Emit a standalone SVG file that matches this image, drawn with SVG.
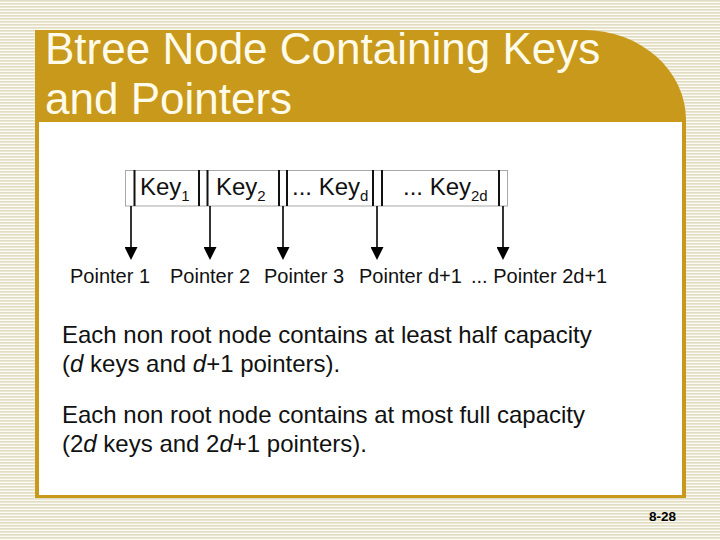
<svg xmlns="http://www.w3.org/2000/svg" width="720" height="540" viewBox="0 0 720 540">
<defs>
<pattern id="stripes" width="6" height="3" patternUnits="userSpaceOnUse">
<rect width="6" height="3" fill="#fbfaf3"/>
<rect width="6" height="1.6" fill="#e1dcc2"/>
</pattern>
<marker id="arr" markerWidth="13" markerHeight="13" refX="6" refY="0" orient="auto" markerUnits="userSpaceOnUse" viewBox="0 -6.5 13 13">
<path d="M0,-6.5 L13,0 L0,6.5 Z" fill="#000"/>
</marker>
<style>
.title{font-family:"Liberation Sans",Arial,sans-serif;font-size:44px;fill:#fffbea}
.key{font-family:"Liberation Sans",Arial,sans-serif;font-size:24px;fill:#111}
.sub{font-size:15px}
.ptr{font-family:"Liberation Sans",Arial,sans-serif;font-size:20px;fill:#111}
.body{font-family:"Liberation Sans",Arial,sans-serif;font-size:24px;fill:#111}
.bar{stroke:#111;stroke-width:2}
.conn{stroke:#000;stroke-width:1.6;fill:none}
</style>
</defs>
<rect width="720" height="540" fill="url(#stripes)"/>
<g id="frame">
<path d="M35,30 H584 A102,90 0 0 1 686,120 V498 H35 Z" fill="#c8991a"/>
<rect x="39" y="122" width="643" height="373" fill="#ffffff"/>
</g>
<g id="title">
<text class="title" x="45" y="64">Btree Node Containing Keys</text>
<text class="title" x="45" y="114">and Pointers</text>
</g>
<g id="node-record">
<rect x="125.5" y="170.5" width="382" height="35.5" fill="#fff" stroke="#a8a8a8" stroke-width="1"/>
<line class="bar" x1="134.5" y1="170" x2="134.5" y2="206"/>
<line class="bar" x1="199" y1="170" x2="199" y2="206"/>
<line class="bar" x1="207.5" y1="170" x2="207.5" y2="206"/>
<line class="bar" x1="279" y1="170" x2="279" y2="206"/>
<line class="bar" x1="287" y1="170" x2="287" y2="206"/>
<line class="bar" x1="373" y1="170" x2="373" y2="206"/>
<line class="bar" x1="382" y1="170" x2="382" y2="206"/>
<line class="bar" x1="499" y1="170" x2="499" y2="206"/>
<text class="key" x="140" y="195">Key<tspan class="sub" dy="6">1</tspan></text>
<text class="key" x="216" y="195">Key<tspan class="sub" dy="6">2</tspan></text>
<text class="key" x="292" y="195">... Key<tspan class="sub" dy="6">d</tspan></text>
<text class="key" x="403" y="195">... Key<tspan class="sub" dy="6">2d</tspan></text>
</g>
<g id="connectors">
<line class="conn" x1="131" y1="206" x2="131" y2="253" marker-end="url(#arr)"/>
<line class="conn" x1="210" y1="206" x2="210" y2="253" marker-end="url(#arr)"/>
<line class="conn" x1="283" y1="206" x2="283" y2="253" marker-end="url(#arr)"/>
<line class="conn" x1="377" y1="206" x2="377" y2="253" marker-end="url(#arr)"/>
<line class="conn" x1="503" y1="206" x2="503" y2="253" marker-end="url(#arr)"/>
</g>
<g id="pointer-1"><text class="ptr" x="70" y="283">Pointer 1</text></g>
<g id="pointer-2"><text class="ptr" x="170" y="283">Pointer 2</text></g>
<g id="pointer-3"><text class="ptr" x="264" y="283">Pointer 3</text></g>
<g id="pointer-d1"><text class="ptr" x="359" y="283">Pointer d+1</text></g>
<g id="pointer-2d1"><text class="ptr" x="471" y="283">... Pointer 2d+1</text></g>
<g id="body">
<text class="body" x="62" y="343">Each non root node contains at least half capacity</text>
<text class="body" x="62" y="372">(<tspan font-style="italic">d</tspan> keys and <tspan font-style="italic">d</tspan>+1 pointers).</text>
<text class="body" x="62" y="423">Each non root node contains at most full capacity</text>
<text class="body" x="62" y="452">(2<tspan font-style="italic">d</tspan> keys and 2<tspan font-style="italic">d</tspan>+1 pointers).</text>
</g>
<text x="649" y="521" font-family="Liberation Sans, Arial, sans-serif" font-size="13.5" font-weight="bold" fill="#000">8-28</text>
</svg>
